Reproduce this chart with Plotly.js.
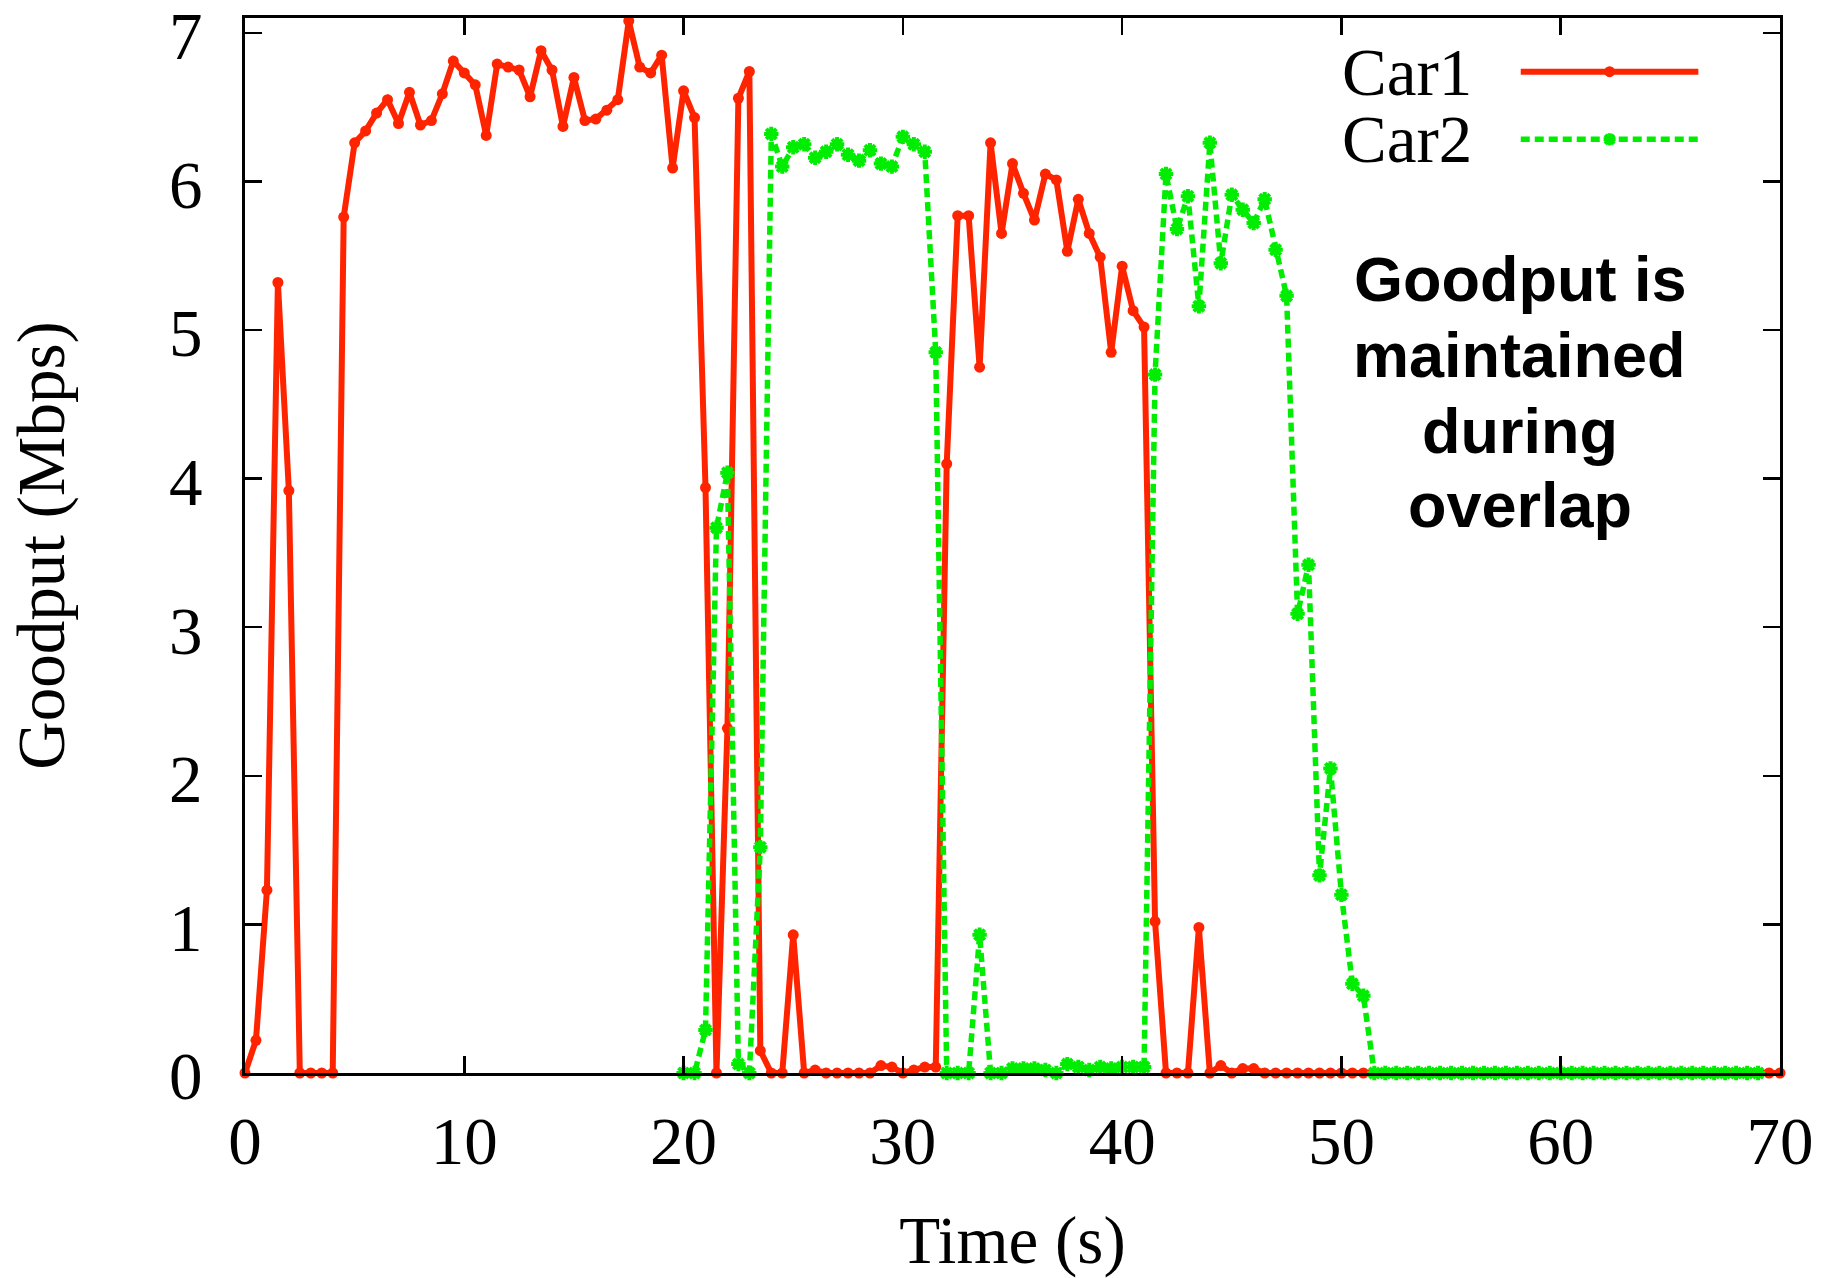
<!DOCTYPE html>
<html>
<head>
<meta charset="utf-8">
<script src="https://cdn.plot.ly/plotly-3.0.1.min.js"></script>
<style>
  html, body { margin: 0; padding: 0; background: #ffffff; }
  #chart { width: 1840px; height: 1278px; }
</style>
</head>
<body>
<div id="chart"></div>
<script>
// ---- Data ----
const car1Time = [
  0, 0.5, 1, 1.5, 2, 2.5, 3, 3.5, 4, 4.5, 5, 5.5, 6, 6.5, 7, 7.5, 8, 8.5, 9, 9.5,
  10, 10.5, 11, 11.5, 12, 12.5, 13, 13.5, 14, 14.5, 15, 15.5, 16, 16.5, 17, 17.5, 18, 18.5, 19, 19.5,
  20, 20.5, 21, 21.5, 22, 22.5, 23, 23.5, 24, 24.5, 25, 25.5, 26, 26.5, 27, 27.5, 28, 28.5, 29, 29.5,
  30, 30.5, 31, 31.5, 32, 32.5, 33, 33.5, 34, 34.5, 35, 35.5, 36, 36.5, 37, 37.5, 38, 38.5, 39, 39.5,
  40, 40.5, 41, 41.5, 42, 42.5, 43, 43.5, 44, 44.5, 45, 45.5, 46, 46.5, 47, 47.5, 48, 48.5, 49, 49.5,
  50, 50.5, 51, 51.5, 52, 52.5, 53, 53.5, 54, 54.5, 55, 55.5, 56, 56.5, 57, 57.5, 58, 58.5, 59, 59.5,
  60, 60.5, 61, 61.5, 62, 62.5, 63, 63.5, 64, 64.5, 65, 65.5, 66, 66.5, 67, 67.5, 68, 68.5, 69, 69.5,
  70
];
const car1Goodput = [
  0, 0.22, 1.23, 5.32, 3.92, 0, 0, 0, 0, 5.76, 6.26, 6.34, 6.46, 6.55, 6.39, 6.60, 6.38, 6.41, 6.59, 6.81,
  6.73, 6.65, 6.31, 6.79, 6.77, 6.75, 6.57, 6.88, 6.75, 6.37, 6.70, 6.41, 6.42, 6.48, 6.55, 7.08, 6.77, 6.73, 6.85, 6.09,
  6.61, 6.43, 3.94, 0, 2.32, 6.56, 6.74, 0.15, 0, 0, 0.93, 0, 0.02, 0, 0, 0, 0, 0, 0.05, 0.04,
  0, 0.02, 0.04, 0.04, 4.10, 5.77, 5.77, 4.75, 6.26, 5.65, 6.12, 5.92, 5.74, 6.05, 6.01, 5.53, 5.88, 5.65, 5.49, 4.85,
  5.43, 5.13, 5.02, 1.02, 0, 0, 0, 0.98, 0, 0.05, 0, 0.03, 0.03, 0, 0, 0, 0, 0, 0, 0,
  0, 0, 0, 0, 0, 0, 0, 0, 0, 0, 0, 0, 0, 0, 0, 0, 0, 0, 0, 0,
  0, 0, 0, 0, 0, 0, 0, 0, 0, 0, 0, 0, 0, 0, 0, 0, 0, 0, 0, 0,
  0
];
const car2Time = [
  20, 20.5, 21, 21.5, 22, 22.5, 23, 23.5, 24, 24.5, 25, 25.5, 26, 26.5, 27, 27.5, 28, 28.5, 29, 29.5,
  30, 30.5, 31, 31.5, 32, 32.5, 33, 33.5, 34, 34.5, 35, 35.5, 36, 36.5, 37, 37.5, 38, 38.5, 39, 39.5,
  40, 40.5, 41, 41.5, 42, 42.5, 43, 43.5, 44, 44.5, 45, 45.5, 46, 46.5, 47, 47.5, 48, 48.5, 49, 49.5,
  50, 50.5, 51, 51.5, 52, 52.5, 53, 53.5, 54, 54.5, 55, 55.5, 56, 56.5, 57, 57.5, 58, 58.5, 59, 59.5,
  60, 60.5, 61, 61.5, 62, 62.5, 63, 63.5, 64, 64.5, 65, 65.5, 66, 66.5, 67, 67.5, 68, 68.5, 69
];
const car2Goodput = [
  0, 0, 0.29, 3.67, 4.04, 0.06, 0, 1.52, 6.32, 6.10, 6.23, 6.25, 6.16, 6.20, 6.25, 6.18, 6.14, 6.21, 6.12, 6.10,
  6.30, 6.25, 6.20, 4.85, 0, 0, 0, 0.93, 0, 0, 0.03, 0.03, 0.03, 0.02, 0, 0.06, 0.04, 0.02, 0.04, 0.03,
  0.04, 0.04, 0.04, 4.70, 6.05, 5.68, 5.90, 5.16, 6.26, 5.45, 5.91, 5.81, 5.72, 5.88, 5.54, 5.23, 3.09, 3.42, 1.33, 2.05,
  1.20, 0.60, 0.52, 0, 0, 0, 0, 0, 0, 0, 0, 0, 0, 0, 0, 0, 0, 0, 0, 0,
  0, 0, 0, 0, 0, 0, 0, 0, 0, 0, 0, 0, 0, 0, 0, 0, 0, 0, 0
];
const seriesNames = ["Car1", "Car2"];
const xTickVals = [0, 10, 20, 30, 40, 50, 60, 70];
const yTickVals = [0, 1, 2, 3, 4, 5, 6, 7];
const noteLines = ["Goodput is", "maintained", "during", "overlap"];

// ---- Styles ----
const RED = "rgb(255,36,0)";
const GREEN = "rgb(0,236,0)";
const SERIF = "Liberation Serif, Times New Roman, serif";
const SANS = "Liberation Sans, Arial, sans-serif";
const FS = 67;

const traces = [
  {
    x: car1Time, y: car1Goodput, name: seriesNames[0], type: "scatter", mode: "lines+markers",
    line: { color: RED, width: 6 },
    marker: { color: RED, size: 11, symbol: "circle" },
    cliponaxis: false, showlegend: false
  },
  {
    x: car2Time, y: car2Goodput, name: seriesNames[1], type: "scatter", mode: "lines+markers",
    line: { color: GREEN, width: 5.5, dash: "9px,5px" },
    marker: { color: GREEN, size: 12, symbol: "asterisk-open", line: { color: GREEN, width: 4 } },
    cliponaxis: false, showlegend: false
  }
];

// legend drawn gnuplot-style (label on the left, sample on the right)
const lgX0 = 0.8311, lgX1 = 0.9468, lgXc = 0.889, lgY1 = 0.9491, lgY2 = 0.885, lgTextX = 0.8007;
const shapes = [
  { type: "line", xref: "paper", yref: "paper", x0: lgX0, x1: lgX1, y0: lgY1, y1: lgY1, line: { color: RED, width: 6 } },
  { type: "circle", xref: "paper", yref: "paper", xsizemode: "pixel", ysizemode: "pixel", xanchor: lgXc, yanchor: lgY1,
    x0: -5.5, x1: 5.5, y0: -5.5, y1: 5.5, fillcolor: RED, line: { color: RED, width: 0 } },
  { type: "line", xref: "paper", yref: "paper", x0: lgX0, x1: lgX1, y0: lgY2, y1: lgY2, line: { color: GREEN, width: 5.5, dash: "9px,5px" } },
  { type: "path", xref: "paper", yref: "paper", xsizemode: "pixel", ysizemode: "pixel", xanchor: lgXc, yanchor: lgY2,
    path: "M-6,0L6,0M0,-6L0,6M-4.5,-4.5L4.5,4.5M-4.5,4.5L4.5,-4.5", line: { color: GREEN, width: 4 } }
];

const noteY = [0.7526, 0.6806, 0.6085, 0.5384];
const annotations = [
  { text: seriesNames[0], xref: "paper", yref: "paper", x: lgTextX, y: lgY1, xanchor: "right", yanchor: "middle",
    showarrow: false, font: { family: SERIF, size: FS, color: "#000" } },
  { text: seriesNames[1], xref: "paper", yref: "paper", x: lgTextX, y: lgY2, xanchor: "right", yanchor: "middle",
    showarrow: false, font: { family: SERIF, size: FS, color: "#000" } }
];
noteLines.forEach((t, i) => {
  annotations.push({ text: "<b>" + t + "</b>", xref: "paper", yref: "paper", x: 0.8306, y: noteY[i],
    xanchor: "center", yanchor: "middle", showarrow: false,
    font: { family: SANS, size: 63, color: "#000" } });
});

const axisCommon = {
  showline: true, linecolor: "#000", linewidth: 3, mirror: "ticks",
  ticks: "inside", ticklen: 17, tickwidth: 2.5, tickcolor: "#000",
  showgrid: false, zeroline: false, ticklabeloverflow: "allow",
  tickfont: { family: SERIF, size: FS, color: "#000" }
};

const layout = {
  width: 1840, height: 1278,
  margin: { l: 245, r: 60, t: 18, b: 205 },
  paper_bgcolor: "#fff", plot_bgcolor: "#fff",
  showlegend: false,
  xaxis: Object.assign({}, axisCommon, {
    range: [0, 70], tickvals: xTickVals, ticktext: xTickVals.map(String),
    ticklabelstandoff: 8,
    title: { text: "Time (s)", font: { family: SERIF, size: FS, color: "#000" }, standoff: 66 }
  }),
  yaxis: Object.assign({}, axisCommon, {
    range: [0, 7.1], tickvals: yTickVals, ticktext: yTickVals.map(String),
    ticklabelstandoff: 26, ticklabelshift: 3,
    title: { text: "Goodput (Mbps)", font: { family: SERIF, size: FS, color: "#000" }, standoff: 83 }
  }),
  shapes: shapes,
  annotations: annotations
};

Plotly.newPlot("chart", traces, layout, { staticPlot: true, displayModeBar: false });
</script>
</body>
</html>
